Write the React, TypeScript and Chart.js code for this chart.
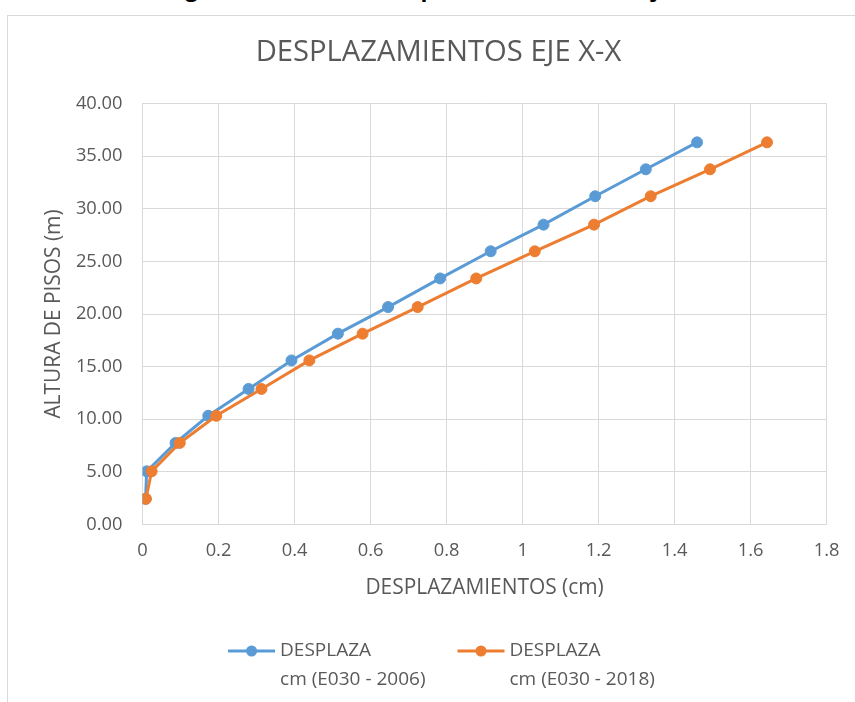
import React, { useEffect, useRef } from "react";
import { Chart, registerables } from "chart.js";

Chart.register(...registerables);

// Floor heights (m) and lateral displacements (cm) per code version
const alturas = [2.44, 5.05, 7.75, 10.33, 12.88, 15.59, 18.13, 20.66, 23.38, 25.96, 28.49, 31.19, 33.75, 36.31];
const desplazamientos2006 = [0.008, 0.011, 0.087, 0.173, 0.279, 0.392, 0.514, 0.646, 0.783, 0.916, 1.055, 1.191, 1.324, 1.459];
const desplazamientos2018 = [0.009, 0.024, 0.098, 0.194, 0.313, 0.439, 0.579, 0.724, 0.878, 1.032, 1.188, 1.337, 1.493, 1.643];

const leyenda2006 = ["DESPLAZA", "cm (E030 - 2006)"];
const leyenda2018 = ["DESPLAZA", "cm (E030 - 2018)"];

const tituloGrafico = "DESPLAZAMIENTOS EJE X-X";
const tituloEjeX = "DESPLAZAMIENTOS (cm)";
const tituloEjeY = "ALTURA DE PISOS (m)";

const xMin = 0;
const xMax = 1.8;
const xPaso = 0.2;
const yMin = 0;
const yMax = 40;
const yPaso = 5;

const AZUL = "#5b9bd5";
const NARANJA = "#ed7d31";
const TEXTO = "#595959";
const REJILLA = "#d9d9d9";
const FUENTE = "'Open Sans', sans-serif";

const CANVAS_W = 861;
const CANVAS_H = 700;

const toPoints = (xs: number[], ys: number[]) => xs.map((x, i) => ({ x, y: ys[i] }));

const titlePlugin = {
  id: "tituloGrafico",
  afterDraw(chart: any) {
    const { ctx, width } = chart;
    ctx.save();
    ctx.font = `29.2px ${FUENTE}`;
    ctx.fillStyle = TEXTO;
    ctx.textAlign = "center";
    ctx.textBaseline = "middle";
    ctx.fillText(tituloGrafico, width / 2, 37);
    ctx.restore();
  },
};

const legendPlugin = {
  id: "leyendaInferior",
  afterDraw(chart: any) {
    const { ctx } = chart;
    const area = chart.chartArea;
    const symbolLen = 47;
    const textGap = 5;
    const itemGap = 32;
    const lineH = 29;
    ctx.save();
    ctx.font = `19px ${FUENTE}`;
    const items = chart.data.datasets.map((ds: any) => {
      const lines: string[] = ds.legendLines;
      const w = Math.max(...lines.map((l) => ctx.measureText(l).width));
      return { ds, lines, w: symbolLen + textGap + w };
    });
    const total = items.reduce((s: number, it: any) => s + it.w, 0) + itemGap * (items.length - 1);
    let x = chart.width / 2 + 3 - total / 2;
    const y1 = area.bottom + 126.5;
    for (const it of items) {
      const color = it.ds.borderColor;
      ctx.strokeStyle = color;
      ctx.lineWidth = 3;
      ctx.beginPath();
      ctx.moveTo(x, y1);
      ctx.lineTo(x + symbolLen, y1);
      ctx.stroke();
      ctx.fillStyle = color;
      ctx.beginPath();
      ctx.arc(x + symbolLen / 2, y1, 5.5, 0, Math.PI * 2);
      ctx.fill();
      ctx.fillStyle = TEXTO;
      ctx.textAlign = "left";
      ctx.textBaseline = "middle";
      it.lines.forEach((l: string, i: number) => ctx.fillText(l, x + symbolLen + textGap, y1 + i * lineH));
      x += it.w + itemGap;
    }
    ctx.restore();
  },
};

export default function App() {
  const canvasRef = useRef<HTMLCanvasElement | null>(null);

  useEffect(() => {
    if (!canvasRef.current) return;
    const chart = new Chart(canvasRef.current, {
      type: "line",
      data: {
        datasets: [
          {
            label: leyenda2006.join(" "),
            legendLines: leyenda2006,
            data: toPoints(desplazamientos2006, alturas),
            borderColor: AZUL,
            backgroundColor: AZUL,
            pointBackgroundColor: AZUL,
            pointBorderColor: AZUL,
            borderWidth: 3,
            pointRadius: 5.5,
            pointBorderWidth: 1,
            tension: 0,
            order: 1,
          } as any,
          {
            label: leyenda2018.join(" "),
            legendLines: leyenda2018,
            data: toPoints(desplazamientos2018, alturas),
            borderColor: NARANJA,
            backgroundColor: NARANJA,
            pointBackgroundColor: NARANJA,
            pointBorderColor: NARANJA,
            borderWidth: 3,
            pointRadius: 5.5,
            pointBorderWidth: 1,
            tension: 0,
            order: 0,
          } as any,
        ],
      },
      options: {
        responsive: false,
        maintainAspectRatio: false,
        animation: false,
        layout: { padding: { left: 0, right: 42.3, top: 87.5, bottom: 111.5 } },
        plugins: {
          legend: { display: false },
          title: { display: false },
          tooltip: { enabled: false },
        },
        scales: {
          x: {
            type: "linear",
            min: xMin,
            max: xMax,
            afterFit: (scale: any) => {
              scale.height = 80;
            },
            grid: { color: REJILLA, lineWidth: 1, drawTicks: false },
            border: { color: REJILLA, width: 1 },
            ticks: {
              stepSize: xPaso,
              padding: 15.5,
              color: TEXTO,
              font: { family: FUENTE, size: 18.3 },
              maxRotation: 0,
              callback: (v: any) => String(parseFloat(Number(v).toFixed(1))),
            },
            title: {
              display: true,
              text: tituloEjeX,
              color: TEXTO,
              font: { family: FUENTE, size: 20.9 },
              padding: { top: 0, bottom: 4 },
            },
          },
          y: {
            type: "linear",
            min: yMin,
            max: yMax,
            afterFit: (scale: any) => {
              scale.width = 134.5;
            },
            grid: { color: REJILLA, lineWidth: 1, drawTicks: false },
            border: { color: REJILLA, width: 1 },
            ticks: {
              stepSize: yPaso,
              padding: 20,
              color: TEXTO,
              font: { family: FUENTE, size: 18.3 },
              callback: (v: any) => Number(v).toFixed(2),
            },
            title: {
              display: true,
              text: tituloEjeY,
              color: TEXTO,
              font: { family: FUENTE, size: 20.9 },
              padding: { top: 33.5, bottom: 0 },
            },
          },
        },
      },
      plugins: [titlePlugin, legendPlugin],
    });
    return () => chart.destroy();
  }, []);

  return (
    <div style={{ position: "fixed", inset: 0, overflow: "hidden", background: "#ffffff" }}>
      <div
        style={{
          position: "absolute",
          top: -22.6,
          left: 166,
          fontFamily: FUENTE,
          fontWeight: 700,
          fontSize: 22.6,
          lineHeight: "22.6px",
          whiteSpace: "nowrap",
          color: "#000000",
        }}
      >
        <span style={{ marginRight: 51 }}>Figura N° 4.12:</span>Desplazamientos en el eje X-X
      </div>
      <div
        style={{
          position: "absolute",
          left: 7,
          top: 15,
          width: CANVAS_W,
          height: CANVAS_H,
          border: `1px solid ${REJILLA}`,
        }}
      >
        <canvas
          ref={canvasRef}
          width={CANVAS_W}
          height={CANVAS_H}
          style={{ display: "block", width: CANVAS_W, height: CANVAS_H }}
        />
      </div>
    </div>
  );
}
